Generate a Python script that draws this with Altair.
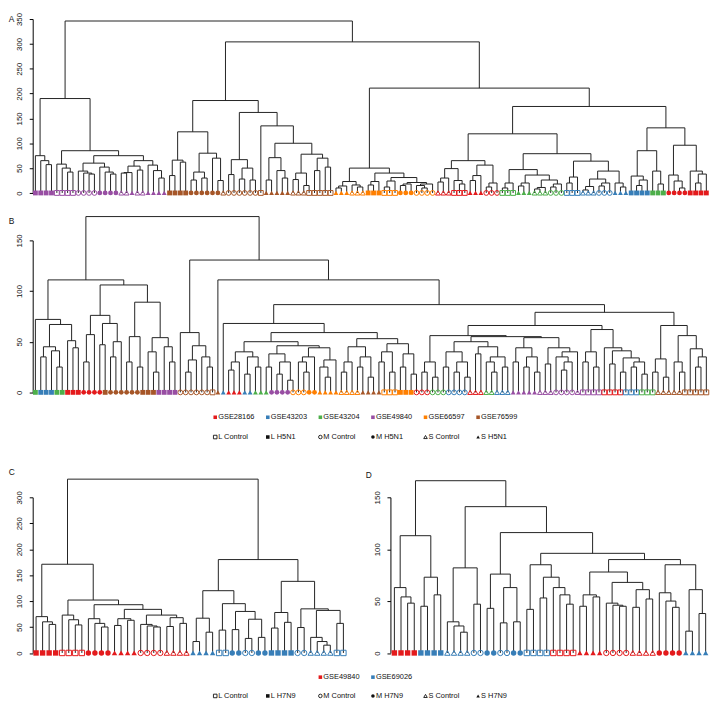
import altair as alt
import pandas as pd

# ------------------------------------------------------------------ data
AB_CODES = ["R", "B", "G", "P", "O", "N"]
AB_NAMES = ["GSE28166", "GSE43203", "GSE43204", "GSE49840", "GSE66597", "GSE76599"]
AB_COLORS = ["#E41A1C", "#377EB8", "#4DAF4A", "#984EA3", "#FF7F00", "#A65628"]
CD_CODES = ["R", "B"]
CD_NAMES = ["GSE49840", "GSE69026"]
CD_COLORS = ["#E41A1C", "#377EB8"]
CD_LEGEND_COLS = [2, 3]

TYPE_CODES = ["l", "L", "m", "M", "s", "S"]
TYPE_LABELS_AB = ["L Control", "L H5N1", "M Control", "M H5N1", "S Control", "S H5N1"]
TYPE_LABELS_CD = ["L Control", "L H7N9", "M Control", "M H7N9", "S Control", "S H7N9"]
TYPE_SHAPES = ["square", "square", "circle", "circle", "triangle-up", "triangle-up"]
TYPE_FILLED = [False, True, False, True, False, True]

# leaf order (dataset code + sample type code, run length)
LEAVES_A = [("PL", 4), ("Pl", 4), ("Pm", 4), ("PM", 4), ("Ps", 2), ("PS", 1), ("Ps", 2), ("PS", 4),
            ("NL", 4), ("NM", 6), ("Ns", 1), ("Nm", 6), ("Nl", 1), ("NS", 5), ("Ns", 3), ("Nl", 5),
            ("OS", 3), ("Os", 3), ("OL", 3), ("Ol", 3), ("OM", 3), ("Om", 4),
            ("Rs", 3), ("Rl", 3), ("RS", 3), ("Rm", 3), ("Gl", 3), ("GS", 3), ("Gs", 3), ("Gm", 3),
            ("Bl", 3), ("Bs", 3), ("Bm", 3), ("BS", 3), ("BL", 4), ("GL", 3), ("RM", 4), ("RL", 4)]
LEAVES_B = [("GL", 1), ("BL", 3), ("GL", 2), ("RL", 3), ("RM", 4), ("NL", 1), ("NM", 6), ("NL", 3), ("PL", 4),
            ("Nm", 6), ("Nl", 1), ("NS", 1), ("BS", 1), ("RS", 3), ("BS", 2), ("GS", 3), ("PM", 4),
            ("Om", 3), ("OM", 2), ("OS", 4), ("Os", 4), ("NS", 4), ("Ol", 3), ("OL", 3),
            ("Rm", 3), ("Gm", 3), ("Bm", 4), ("Rs", 3), ("Gs", 2), ("Bs", 3), ("PS", 5), ("Ps", 3),
            ("Pm", 4), ("Ps", 1), ("Pl", 4), ("Rl", 4), ("Bl", 3), ("Gl", 3), ("Ns", 5), ("Nl", 5)]
LEAVES_C = [("RL", 4), ("Rl", 4), ("RM", 4), ("RS", 4), ("Rm", 4), ("Rs", 4), ("BS", 4), ("Bl", 2),
            ("BM", 2), ("Bm", 2), ("BM", 2), ("BL", 4), ("Bm", 2), ("Bs", 4), ("Bl", 2)]
LEAVES_D = [("RL", 4), ("BL", 4), ("Bs", 4), ("Bm", 2), ("BM", 2), ("Bm", 2), ("BM", 2), ("Bl", 4),
            ("Rl", 4), ("RS", 4), ("Rm", 4), ("Rs", 4), ("RM", 4), ("BS", 4)]

# merge height between neighbouring leaves i and i+1 (height of their joining node)
MERGE_A = [75, 65, 57, 190, 58, 50, 42, 85, 44, 40, 38, 60, 52, 42, 38, 75, 40, 41, 54, 46, 65, 56, 45, 30, 346,
           35, 66, 62, 123, 26, 42, 30, 80, 70, 25, 186,
           37, 67, 28, 50, 26, 162, 135, 26, 71, 45, 30, 100, 27, 40, 15, 78, 45, 70, 52, 304,
           10, 14, 23, 16, 12, 50, 16, 23, 40, 12, 24, 31, 15, 18, 21, 15, 10, 18, 211,
           22, 30, 49, 25, 18, 65, 25, 35, 56, 12, 20, 119,
           10, 20, 47, 14, 20, 36, 8, 11, 26, 12, 18, 79,
           20, 32, 64, 6, 13, 28, 14, 20, 44, 20, 12, 174,
           34, 15, 26, 85, 44, 18, 131, 36, 24, 10, 96, 44, 20, 38]
MERGE_B = [72, 35, 45, 41, 25, 67, 51, 44, 111,
           30, 57, 76, 47, 68, 35, 50, 106,
           30, 55, 25, 89, 40, 20, 54, 45, 30, 173.5,
           59, 20, 32, 46, 35, 25, 130.6, 111, 68,
           22, 30, 40, 18, 35, 25, 50,
           25, 38, 18, 30, 12, 46, 30, 20, 35, 44, 25, 15, 32, 59,
           20, 30, 45, 25, 35, 15, 53, 30, 40, 20, 48, 25, 38, 18, 86.6,
           20, 30, 15, 56, 25, 40, 20, 30, 15, 50, 38, 45, 30, 20, 35, 25, 55,
           30, 44, 25, 35, 20, 54, 28, 44, 35, 22, 30, 40, 66,
           30, 40, 25, 62, 44, 28, 41, 20, 34, 25, 30, 18, 79,
           20, 33, 15, 66, 30, 20, 56, 43, 25, 35]
MERGE_C = [70, 60, 55, 171, 73, 64, 54, 102, 66, 57, 50, 93, 53, 66, 63, 84, 55, 52, 50, 73, 51, 68, 57, 335,
           22, 67, 40, 120, 44, 95, 45, 80, 28, 65, 30, 180, 48, 78, 59, 138, 49, 85, 30, 22, 15, 82, 57]
MERGE_D = [63, 54, 48, 113, 45, 73, 56, 166, 30, 26, 20, 82, 47, 141, 43, 76, 29, 63, 30, 116,
           42, 85, 53, 73, 63, 56, 47, 96, 45, 56, 54, 78, 48, 46, 45, 68, 44, 61, 52, 90,
           58, 50, 44, 85, 21, 61, 38]

TICKS_A = [0, 50, 100, 150, 200, 250, 300, 350]
TICKS_B = [0, 50, 100, 150]
TICKS_C = [0, 50, 100, 150, 200, 250, 300]
TICKS_D = [0, 50, 100, 150]

# ------------------------------------------------------------------ layout / style
FONT = "Liberation Sans"
LINE_COLOR = "#222222"
INK = "#111111"
PLOT_LEFT = 32.3          # page x of the plot areas' left edge
PLOT_RIGHT = 716.7
W = PLOT_RIGHT - PLOT_LEFT
A_H, B_H, CD_H, L12_H, L34_H = 176, 153.8, 157.5, 20, 19
GAP_AB, GAP_BL, GAP_LC, GAP_CL = 47.6, 24.6, 60.3, 23.8
C_FIRST, C_LAST = 35.7, 346.7
D_FIRST, D_LAST, D_AXIS = 398.3, 713.3, 394.3
LEG_COL0, LEG_STEP = 217.0, 53.2
LETTER_X = -24.3


def expand(runs):
    out = []
    for code, n in runs:
        out.extend([code] * n)
    return out


def tree_segments(merge):
    segs = []

    def build(lo, hi):
        if lo == hi:
            return float(lo), 0.0
        k = max(range(lo, hi), key=lambda i: merge[i])
        xl, hl = build(lo, k)
        xr, hr = build(k + 1, hi)
        h = float(merge[k])
        segs.append({"x": xl, "x2": xl, "y": hl, "y2": h})
        segs.append({"x": xr, "x2": xr, "y": hr, "y2": h})
        segs.append({"x": xl, "x2": xr, "y": h, "y2": h})
        return (xl + xr) / 2.0, h

    build(0, len(merge))
    return pd.DataFrame(segs)


def leaf_table(leaves, codes, colors):
    rows = []
    for i, c in enumerate(leaves):
        t = TYPE_CODES.index(c[1])
        rows.append({"x": float(i), "y": 0.0, "color": colors[codes.index(c[0])],
                     "shape": TYPE_SHAPES[t], "filled": TYPE_FILLED[t]})
    return pd.DataFrame(rows)


def y_axis(ticks, **kw):
    return alt.Axis(values=ticks, title=None, grid=False, domainColor="#000000", domainWidth=1,
                    tickColor="#000000", tickWidth=1, tickSize=3.5, labelAngle=270,
                    labelAlign="center", labelBaseline="bottom", labelPadding=5.5,
                    labelFont=FONT, labelFontSize=8, labelColor=INK, labelOverlap=False,
                    minExtent=0, **kw)


def dendro_layers(merge, runs, codes, colors, xdom, ydom, ticks, size, axis_kw, shared_axis):
    leaves = expand(runs)
    assert len(leaves) == len(merge) + 1
    seg = tree_segments(merge)
    lt = leaf_table(leaves, codes, colors)

    def xs():
        return alt.Scale(domain=xdom, nice=False, zero=False)

    def ys():
        return alt.Scale(domain=ydom, nice=False, zero=False)

    lines = alt.Chart(seg).mark_rule(color=LINE_COLOR, strokeWidth=1).encode(
        x=alt.X("x:Q", scale=xs(), axis=None), x2="x2:Q",
        y=alt.Y("y:Q", scale=ys(), axis=y_axis(ticks, **axis_kw)), y2="y2:Q")

    def pts(df, filled):
        m = (alt.Chart(df).mark_point(filled=True, size=size, opacity=1) if filled else
             alt.Chart(df).mark_point(filled=False, size=size, strokeWidth=1, opacity=1))
        yax = y_axis(ticks, **axis_kw) if shared_axis else None
        return m.encode(x=alt.X("x:Q", scale=xs(), axis=None),
                        y=alt.Y("y:Q", scale=ys(), axis=yax),
                        color=alt.Color("color:N", scale=None),
                        shape=alt.Shape("shape:N", scale=None))

    return [lines, pts(lt[~lt["filled"]], False), pts(lt[lt["filled"]], True)]


def letter(t, x, y):
    return alt.Chart(pd.DataFrame({"t": [t]})).mark_text(
        align="left", baseline="middle", font=FONT, fontSize=8.5, color=INK
    ).encode(text="t:N", x=alt.value(x), y=alt.value(y))


def legend_chart(items, height):
    df = pd.DataFrame(items)
    d0 = -(LEG_COL0 - PLOT_LEFT) / LEG_STEP
    xdom = [d0, d0 + W / LEG_STEP]

    def enc():
        return dict(x=alt.X("col:Q", scale=alt.Scale(domain=xdom, nice=False, zero=False), axis=None),
                    y=alt.Y("row:Q", scale=alt.Scale(domain=[0, 1], reverse=True, nice=False, zero=False),
                            axis=None))

    o = alt.Chart(df[~df["filled"]]).mark_point(filled=False, size=13, strokeWidth=0.9, opacity=1).encode(
        color=alt.Color("color:N", scale=None), shape=alt.Shape("shape:N", scale=None), **enc())
    f = alt.Chart(df[df["filled"]]).mark_point(filled=True, size=13, opacity=1).encode(
        color=alt.Color("color:N", scale=None), shape=alt.Shape("shape:N", scale=None), **enc())
    t = alt.Chart(df).mark_text(align="left", baseline="middle", dx=3, font=FONT, fontSize=7.5,
                                color=INK).encode(text="label:N", **enc())
    return alt.layer(o, f, t).properties(width=W, height=height)


def spacer(h):
    return alt.Chart(pd.DataFrame({"a": [0]})).mark_point(opacity=0, size=1).encode(
        x=alt.value(0), y=alt.value(0)).properties(width=W, height=h)


# ------------------------------------------------------------------ panels
nA = len(MERGE_A) + 1
panel_a = alt.layer(*dendro_layers(MERGE_A, LEAVES_A, AB_CODES, AB_COLORS, [-0.5, nA - 0.5], [0, 350],
                                   TICKS_A, 24, {}, True),
                    letter("A", LETTER_X, 0)).properties(width=W, height=A_H)

nB = len(MERGE_B) + 1
panel_b = alt.layer(*dendro_layers(MERGE_B, LEAVES_B, AB_CODES, AB_COLORS, [-0.5, nB - 0.5], [0, 150],
                                   TICKS_B, 24, {}, True),
                    letter("B", LETTER_X, -19.3)).properties(width=W, height=B_H)

nC = len(MERGE_C) + 1
c_step = (C_LAST - C_FIRST) / (nC - 1)
c0 = -(C_FIRST - PLOT_LEFT) / c_step
nD = len(MERGE_D) + 1
d_step = (D_LAST - D_FIRST) / (nD - 1)
d0 = -(D_FIRST - PLOT_LEFT) / d_step

c_layers = dendro_layers(MERGE_C, LEAVES_C, CD_CODES, CD_COLORS, [c0, c0 + W / c_step], [0, 300],
                         TICKS_C, 30, {"orient": "left"}, False)
d_layers = dendro_layers(MERGE_D, LEAVES_D, CD_CODES, CD_COLORS, [d0, d0 + W / d_step], [0, 150],
                         TICKS_D, 30, {"orient": "left", "offset": -(D_AXIS - PLOT_LEFT)}, False)
panel_cd = alt.layer(*c_layers, *d_layers,
                     letter("C", LETTER_X, -25.7),
                     letter("D", 369.3 - PLOT_LEFT, -22.3)
                     ).resolve_scale(x="independent", y="independent").properties(width=W, height=CD_H)

leg1 = [{"col": k, "row": 0, "label": AB_NAMES[k], "color": AB_COLORS[k], "shape": "square", "filled": True}
        for k in range(len(AB_NAMES))]
leg1 += [{"col": k, "row": 1, "label": TYPE_LABELS_AB[k], "color": INK, "shape": TYPE_SHAPES[k],
          "filled": TYPE_FILLED[k]} for k in range(len(TYPE_LABELS_AB))]
leg2 = [{"col": CD_LEGEND_COLS[k], "row": 0, "label": CD_NAMES[k], "color": CD_COLORS[k], "shape": "square",
         "filled": True} for k in range(len(CD_NAMES))]
leg2 += [{"col": k, "row": 1, "label": TYPE_LABELS_CD[k], "color": INK, "shape": TYPE_SHAPES[k],
          "filled": TYPE_FILLED[k]} for k in range(len(TYPE_LABELS_CD))]

chart = alt.vconcat(
    panel_a, spacer(GAP_AB), panel_b, spacer(GAP_BL), legend_chart(leg1, L12_H),
    spacer(GAP_LC), panel_cd, spacer(GAP_CL), legend_chart(leg2, L34_H),
    spacing=0, bounds="flush"
).properties(padding=0).configure(background="white").configure_view(stroke=None)

chart.save("out.html", embed_options={"renderer": "svg", "actions": False})
